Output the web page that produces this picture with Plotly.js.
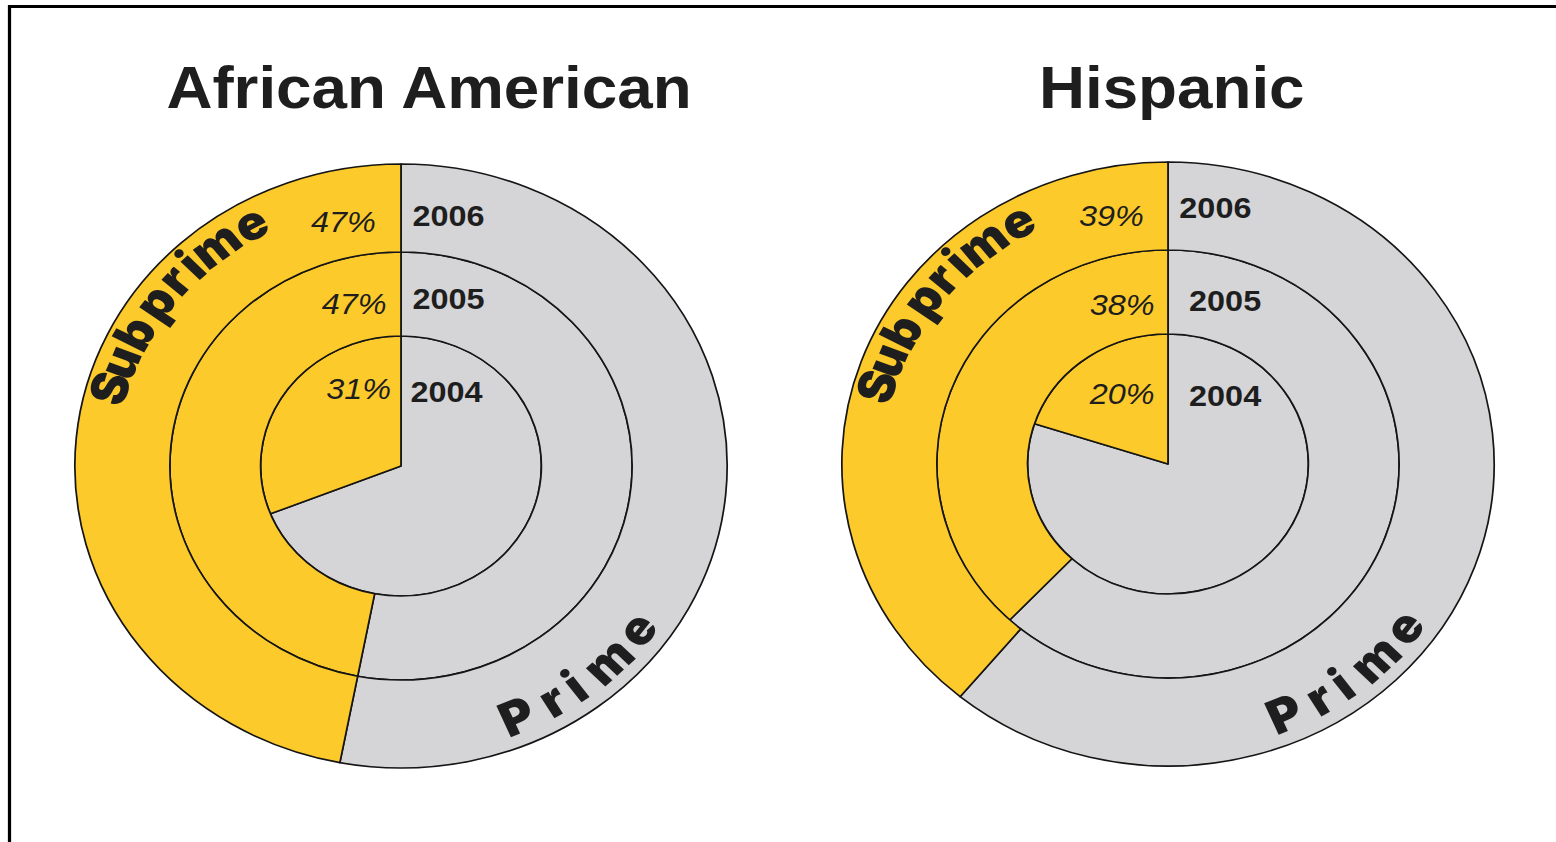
<!DOCTYPE html>
<html>
<head>
<meta charset="utf-8">
<script src="https://cdn.plot.ly/plotly-3.0.1.min.js"></script>
<style>
  html, body { margin: 0; padding: 0; background: #ffffff; overflow: hidden; }
  #wrap { width: 1556px; height: 842px; overflow: hidden; }
  #chart { width: 1441px; height: 842px; transform: scaleX(1.08); transform-origin: 0 0; }
</style>
</head>
<body>
<div id="wrap"><div id="chart"></div></div>
<script>
// ---- data ----
const groups = ['African American', 'Hispanic'];
const years = ['2004', '2005', '2006'];
const segments = ['Prime', 'Subprime'];
const subprimeAfricanAmerican = [31, 47, 47];
const primeAfricanAmerican = [69, 53, 53];
const subprimeHispanic = [20, 38, 39];
const primeHispanic = [80, 62, 61];

// ---- layout helpers (reference pixel space -> paper space) ----
const W = 1441, H = 842, SX = 1.08;
const px = x => x / SX / W;
const py = y => 1 - y / H;
const colors = ['#D5D5D8', '#FDCA2C'];   // Prime, Subprime
const ringR = [130, 214, 302];          // inner, middle, outer radius (px)
const centers = [[401, 466], [1168, 464]];
const titleX = [429, 1172];
const pctPos = [
  [[359, 388], [354, 303], [343, 221]],
  [[1122, 393], [1122, 304], [1111, 216]]
];
const yearPos = [
  [[447, 391], [449, 298], [449, 215]],
  [[1225, 395], [1225, 300], [1215, 208]]
];
const subAngles = [74, 68.2, 61.8, 54.2, 48.5, 44.1, 37.9, 29.8];
const primeAngles = [23.3, 30.9, 36.2, 44.5, 53.2];

const subSeries = [subprimeAfricanAmerican, subprimeHispanic];
const primeSeries = [primeAfricanAmerican, primeHispanic];

const traces = [];
const annotations = [];
const heavyFont = { family: 'Inter, DejaVu Sans, sans-serif', size: 47, color: '#1e1e1e', weight: 900 };

groups.forEach((g, gi) => {
  const [cx, cy] = centers[gi];
  const cxu = cx / SX;
  years.forEach((yr, yi) => {
    const r = ringR[yi];
    traces.push({
      type: 'pie',
      name: g + ' ' + yr,
      labels: segments,
      values: [primeSeries[gi][yi], subSeries[gi][yi]],
      sort: false,
      direction: 'clockwise',
      rotation: 0,
      hole: yi === 0 ? 0 : ringR[yi - 1] / r,
      textinfo: 'none',
      hoverinfo: 'label+value',
      marker: { colors: colors, line: { color: '#151515', width: 1.6 } },
      domain: {
        x: [(cxu - r) / W, (cxu + r) / W],
        y: [1 - (cy + r) / H, 1 - (cy - r) / H]
      },
      showlegend: false
    });
    annotations.push({
      text: '<i>' + subSeries[gi][yi] + '%</i>',
      x: px(pctPos[gi][yi][0]), y: py(pctPos[gi][yi][1]),
      xref: 'paper', yref: 'paper', showarrow: false,
      xanchor: 'center', yanchor: 'middle',
      font: { family: 'Liberation Sans, Arial, sans-serif', size: 30, color: '#1e1e1e' }
    });
    annotations.push({
      text: '<b>' + yr + '</b>',
      x: px(yearPos[gi][yi][0]), y: py(yearPos[gi][yi][1]),
      xref: 'paper', yref: 'paper', showarrow: false,
      xanchor: 'center', yanchor: 'middle',
      font: { family: 'Liberation Sans, Arial, sans-serif', size: 30, color: '#1e1e1e' }
    });
  });
  // title
  annotations.push({
    text: '<b>' + g + '</b>',
    x: px(titleX[gi]), y: py(88),
    xref: 'paper', yref: 'paper', showarrow: false,
    xanchor: 'center', yanchor: 'middle',
    font: { family: 'Liberation Sans, Arial, sans-serif', size: 59, color: '#1e1e1e' }
  });
  // curved "Subprime"
  const rs = 281;
  segments[1].split('').forEach((ch, i) => {
    const t = subAngles[i] * Math.PI / 180;
    annotations.push({
      text: ch,
      x: (cxu - rs * Math.sin(t)) / W, y: py(cy - rs * Math.cos(t)),
      xref: 'paper', yref: 'paper', showarrow: false,
      xanchor: 'center', yanchor: 'middle', textangle: -subAngles[i],
      font: heavyFont
    });
  });
  // curved "Prime"
  const rp = 272;
  segments[0].split('').forEach((ch, i) => {
    const t = primeAngles[i] * Math.PI / 180;
    annotations.push({
      text: ch,
      x: (cxu + rp * Math.sin(t)) / W, y: py(cy + rp * Math.cos(t)),
      xref: 'paper', yref: 'paper', showarrow: false,
      xanchor: 'center', yanchor: 'middle', textangle: -primeAngles[i],
      font: heavyFont
    });
  });
});

const layout = {
  width: W, height: H,
  margin: { l: 0, r: 0, t: 0, b: 0 },
  paper_bgcolor: '#ffffff',
  showlegend: false,
  annotations: annotations,
  shapes: [
    { type: 'line', xref: 'paper', yref: 'paper', x0: px(9.5), x1: px(9.5), y0: py(5), y1: 0, line: { color: '#000', width: 3 } },
    { type: 'line', xref: 'paper', yref: 'paper', x0: px(8), x1: 1, y0: py(6.5), y1: py(6.5), line: { color: '#000', width: 3 } }
  ]
};

Plotly.newPlot('chart', traces, layout, { displayModeBar: false });
</script>
</body>
</html>
